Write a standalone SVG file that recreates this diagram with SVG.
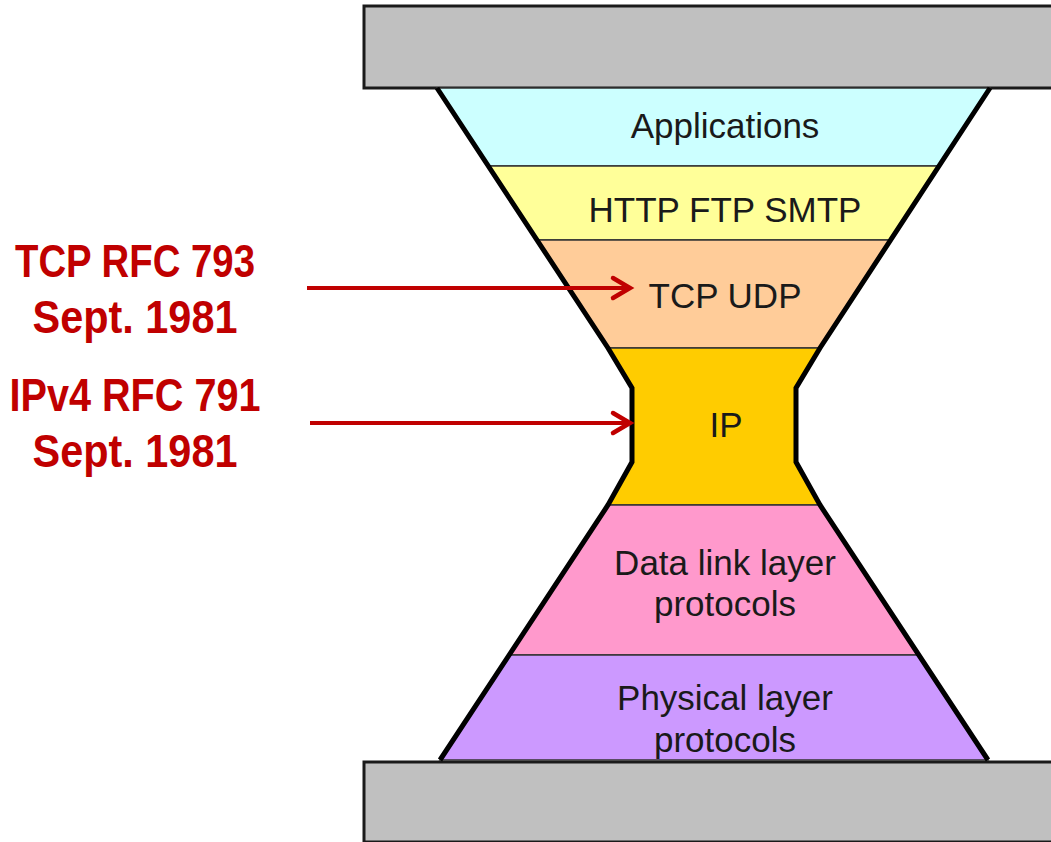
<svg xmlns="http://www.w3.org/2000/svg" width="1051" height="842" viewBox="0 0 1051 842">
<style>
.band{stroke:#333;stroke-width:1.5}
.outline{fill:none;stroke:#000;stroke-width:5;stroke-linejoin:miter}
.bar{fill:#c0c0c0;stroke:#1a1a1a;stroke-width:3}
.lbl{font-family:"Liberation Sans",Arial,sans-serif;font-size:35px;fill:#1a1a1a;text-anchor:middle}
.red{font-family:"Liberation Sans",Arial,sans-serif;font-weight:bold;font-size:46px;fill:#c00000;text-anchor:middle}
.arr{stroke:#c00000;stroke-width:4;fill:none}
</style>
<defs>
<marker id="ah" markerUnits="userSpaceOnUse" markerWidth="26" markerHeight="26" refX="20" refY="12" orient="auto" overflow="visible">
<path d="M3,2 L20,12 L3,22" fill="none" stroke="#c00000" stroke-width="4.5" stroke-linecap="round" stroke-linejoin="miter"/>
</marker>
</defs>
<g id="top-bar"><rect class="bar" x="364" y="6" width="700" height="82"/></g>
<g id="bottom-bar"><rect class="bar" x="364" y="762" width="700" height="80"/></g>
<g id="applications">
<polygon class="band" fill="#ccffff" points="437,88 990,88 939,166 488,166"/>
<text class="lbl" x="725" y="138">Applications</text>
</g>
<g id="http">
<polygon class="band" fill="#ffff99" points="488,166 939,166 891,240 537,240"/>
<text class="lbl" x="725" y="222">HTTP FTP SMTP</text>
</g>
<g id="tcp">
<polygon class="band" fill="#ffcc99" points="537,240 891,240 820,348 608,348"/>
<text class="lbl" x="725" y="308">TCP UDP</text>
</g>
<g id="ip">
<polygon class="band" fill="#ffcc00" points="608,348 820,348 796,388 796,462 820,505 608,505 632,462 632,388"/>
<text class="lbl" x="726" y="437">IP</text>
</g>
<g id="datalink">
<polygon class="band" fill="#ff99cc" points="608,505 820,505 919,655 509,655"/>
<text class="lbl" x="725" y="575">Data link layer</text>
<text class="lbl" x="725" y="616">protocols</text>
</g>
<g id="physical">
<polygon class="band" fill="#cc99ff" points="509,655 919,655 988,760 440,760"/>
<text class="lbl" x="725" y="710">Physical layer</text>
<text class="lbl" x="725" y="752">protocols</text>
</g>
<g id="outline">
<path class="outline" d="M437,88 L608,348 L632,388 L632,462 L608,505 L440,760"/>
<path class="outline" d="M990,88 L820,348 L796,388 L796,462 L820,505 L988,760"/>
</g>
<g id="tcp-label">
<text class="red" x="135" y="277" textLength="240" lengthAdjust="spacingAndGlyphs">TCP RFC 793</text>
<text class="red" x="135" y="333" textLength="205" lengthAdjust="spacingAndGlyphs">Sept. 1981</text>
</g>
<g id="ip-label">
<text class="red" x="135" y="411" textLength="251" lengthAdjust="spacingAndGlyphs">IPv4 RFC 791</text>
<text class="red" x="135" y="467" textLength="205" lengthAdjust="spacingAndGlyphs">Sept. 1981</text>
</g>
<g id="connectors">
<line class="arr" x1="307" y1="288" x2="630" y2="288" marker-end="url(#ah)"/>
<line class="arr" x1="310" y1="423" x2="630" y2="423" marker-end="url(#ah)"/>
</g>
</svg>
